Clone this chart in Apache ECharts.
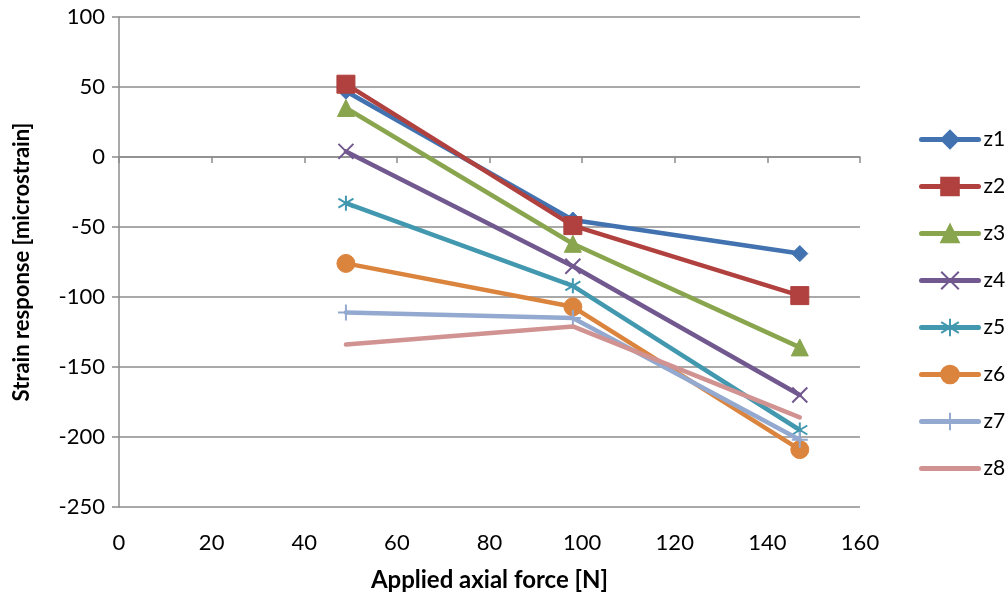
<!DOCTYPE html>
<html>
<head>
<meta charset="utf-8">
<script src="https://cdn.jsdelivr.net/npm/echarts@6/dist/echarts.min.js"></script>
<style>
  html, body { margin: 0; padding: 0; background: #fff; }
  #chart { width: 1008px; height: 599px; }
</style>
</head>
<body>
<div id="chart"></div>
<script>
// applied axial force [N]
const forces = [49, 98, 147];

const seriesNames = ['z1', 'z2', 'z3', 'z4', 'z5', 'z6', 'z7', 'z8'];
const z1 = [47, -45, -69];
const z2 = [52, -49, -99];
const z3 = [35, -62, -136];
const z4 = [4, -78, -170];
const z5 = [-33, -92, -195];
const z6 = [-76, -107, -209];
const z7 = [-111, -115, -202];
const z8 = [-134, -121, -186];
const values = [z1, z2, z3, z4, z5, z6, z7, z8];

const colors = ['#4272B0', '#B0413E', '#89A54E', '#71588F', '#4198AF', '#DB843D', '#93A9CF', '#D19392'];

// marker shapes, drawn as paths so they look like the Excel ones
const xPath = 'path://M0,0 L10,10 M10,0 L0,10';
const starPath = 'path://M5,0 L5,10 M0,2 L10,8 M10,2 L0,8';
const plusPath = 'path://M5,0 L5,10 M0,5 L10,5';
const symbols = ['diamond', 'rect', 'triangle', xPath, starPath, 'circle', plusPath, 'circle'];
const sizes = [16, 18, 17, 15, 15, 18, 16, 0];

const chart = echarts.init(document.getElementById('chart'));
const font = 'Lato, "Open Sans", sans-serif';

// markers that are only strokes (no fill)
const lineMarks = [3, 4, 6];

function markStyle(i) {
  if (i === 7) return { color: 'rgba(0,0,0,0)', borderWidth: 0 };
  if (lineMarks.includes(i)) return { color: 'rgba(0,0,0,0)', borderColor: colors[i], borderWidth: 2 };
  return { color: colors[i], borderColor: colors[i], borderWidth: 1 };
}

chart.setOption({
  animation: false,
  color: colors,
  grid: { left: 119, right: 148, top: 17, bottom: 92 },
  legend: {
    orient: 'vertical',
    left: 919,
    top: 129,
    padding: 0,
    itemGap: 26,
    itemWidth: 57,
    itemHeight: 22,
    lineStyle: { width: 5, cap: 'round' },
    textStyle: { fontFamily: font, fontSize: 21, color: '#000' },
    data: seriesNames
  },
  xAxis: {
    type: 'value',
    min: 0,
    max: 160,
    interval: 20,
    name: 'Applied axial force [N]',
    nameLocation: 'middle',
    nameGap: 61,
    nameTextStyle: { fontFamily: font, fontSize: 24, fontWeight: 'bold', color: '#000' },
    axisLine: { show: true, lineStyle: { color: '#8c8c8c', width: 1.5 } },
    axisTick: { show: true, length: 6, lineStyle: { color: '#8c8c8c', width: 1.5 } },
    axisLabel: { fontFamily: font, fontSize: 22, color: '#000', margin: 25 },
    splitLine: { show: false }
  },
  yAxis: {
    type: 'value',
    min: -250,
    max: 100,
    interval: 50,
    name: 'Strain response [microstrain]',
    nameLocation: 'middle',
    nameGap: 86,
    nameTextStyle: { fontFamily: font, fontSize: 22, fontWeight: 'bold', color: '#000' },
    axisLine: { show: true, onZero: false, lineStyle: { color: '#8c8c8c', width: 1.5 } },
    axisTick: { show: true, length: 7, lineStyle: { color: '#8c8c8c', width: 1.5 } },
    axisLabel: { fontFamily: font, fontSize: 22, color: '#000', margin: 14 },
    splitLine: { show: true, lineStyle: { color: '#8c8c8c', width: 1.5 } }
  },
  series: seriesNames.map((name, i) => ({
    name,
    type: 'line',
    data: forces.map((f, j) => [f, values[i][j]]),
    symbol: symbols[i],
    symbolSize: sizes[i],
    showSymbol: i !== 7,
    lineStyle: { width: 4.5, color: colors[i], cap: 'round' },
    itemStyle: markStyle(i),
    z: 2 + i
  }))
});
</script>
</body>
</html>
